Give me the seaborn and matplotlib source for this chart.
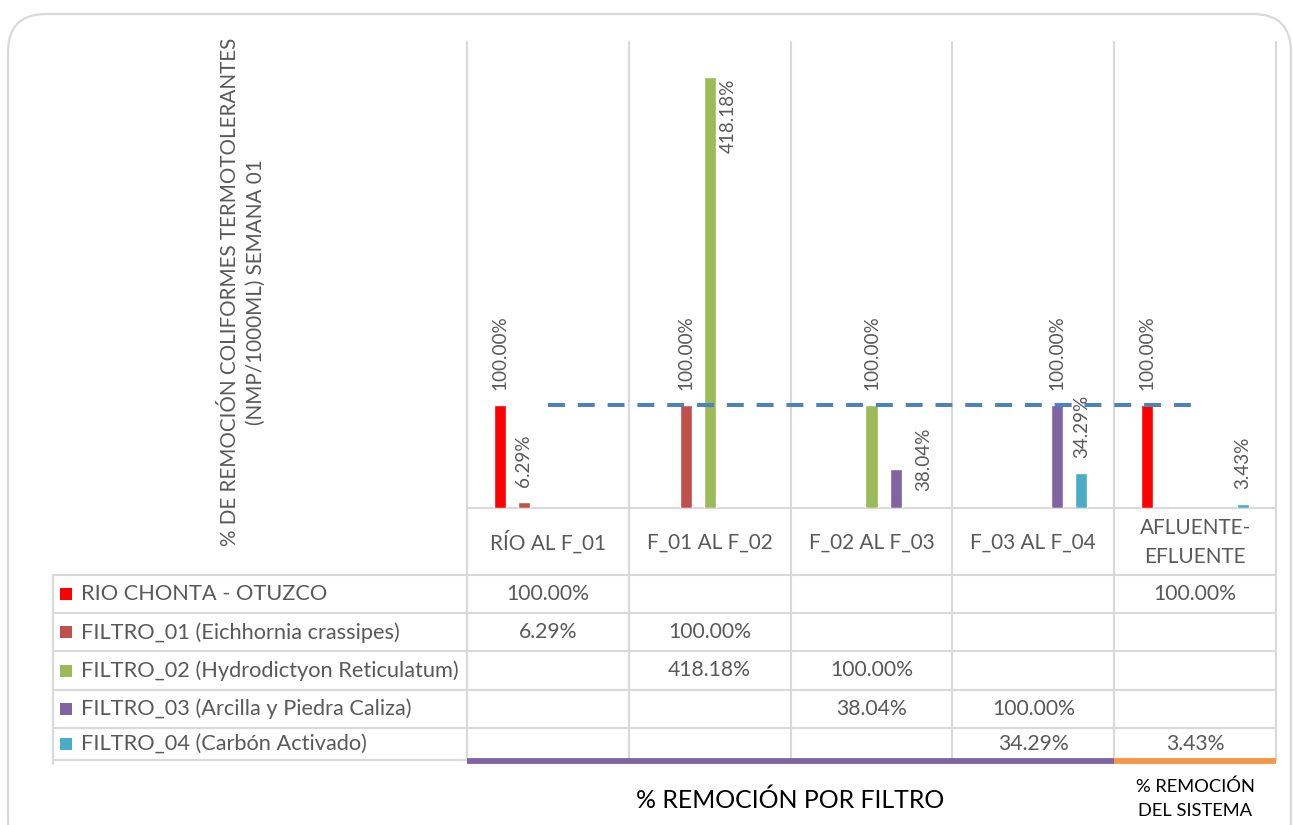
import numpy as np
import pandas as pd
import matplotlib
matplotlib.use("Agg")
import matplotlib.pyplot as plt
import seaborn as sns
from matplotlib.patches import FancyBboxPatch, Rectangle

# ---------------- data ----------------
categories = ["RÍO AL F_01", "F_01 AL F_02", "F_02 AL F_03", "F_03 AL F_04", "AFLUENTE-\nEFLUENTE"]
series_names = [
    "RIO CHONTA - OTUZCO",
    "FILTRO_01 (Eichhornia crassipes)",
    "FILTRO_02 (Hydrodictyon Reticulatum)",
    "FILTRO_03 (Arcilla y Piedra Caliza)",
    "FILTRO_04 (Carbón Activado)",
]
rio_chonta = [100.00, None, None, None, 100.00]
filtro_01 = [6.29, 100.00, None, None, None]
filtro_02 = [None, 418.18, 100.00, None, None]
filtro_03 = [None, None, 38.04, 100.00, None]
filtro_04 = [None, None, None, 34.29, 3.43]
reference_100 = [100, 100, 100, 100, 100]
series_colors = ["#FF0000", "#C0504D", "#9BBB59", "#8064A2", "#4BACC6"]
axis_title = "% DE REMOCIÓN COLIFORMES TERMOTOLERANTES\n(NMP/1000ML) SEMANA 01"
group_titles = ["% REMOCIÓN POR FILTRO", "% REMOCIÓN\nDEL SISTEMA"]

all_series = [rio_chonta, filtro_01, filtro_02, filtro_03, filtro_04]

# ---------------- style ----------------
GRAY_TXT = "#595959"
GRID = "#D9D9D9"
W, H = 1293, 825
sns.set_theme(style="white")
plt.rcParams["font.family"] = ["Lato", "DejaVu Sans"]

fig = plt.figure(figsize=(W / 100, H / 100), dpi=100)
fig.patch.set_facecolor("white")
renderer = fig.canvas.get_renderer()


def fit_size(s, target_px, base=10.0):
    longest = max(s.split("\n"), key=len)
    t = fig.text(0, 0, longest, fontsize=base)
    w = t.get_window_extent(renderer).width
    t.remove()
    return base * target_px / w


FS_LEGEND = fit_size("FILTRO_02 (Hydrodictyon Reticulatum)", 377)
FS_VALUE = fit_size("100.00%", 83)
FS_CAT = fit_size("RÍO AL F_01", 115)
FS_LABEL = fit_size("100.00%", 74)
FS_AXTITLE = fit_size("% DE REMOCIÓN COLIFORMES TERMOTOLERANTES", 505)
FS_G1 = fit_size("% REMOCIÓN POR FILTRO", 306)
FS_G2 = fit_size("DEL SISTEMA", 114)

# overlay axes in pixel coordinates (layout only)
over = fig.add_axes([0, 0, 1, 1], zorder=0)
over.set_xlim(0, W)
over.set_ylim(H, 0)
over.axis("off")

# outer rounded frame
frame = FancyBboxPatch((8, 14), W - 10, H + 20, boxstyle="round,pad=0,rounding_size=38",
                       facecolor="white", edgecolor=GRID, lw=1.6, clip_on=True)
over.add_patch(frame)

# plot area
L, R, T, B = 467, 1276, 44, 508
ax = fig.add_axes([L / W, 1 - B / H, (R - L) / W, (B - T) / H], zorder=2)
ax.patch.set_alpha(0)

rows = []
for name, vals in zip(series_names, all_series):
    for i, v in enumerate(vals):
        if v is not None:
            rows.append({"cat": i, "serie": name, "val": v})
df = pd.DataFrame(rows)

sns.barplot(data=df, x="cat", y="val", hue="serie", hue_order=series_names,
            order=list(range(len(categories))), palette=series_colors,
            width=0.742, gap=0.5, dodge=True, saturation=1, errorbar=None,
            legend=False, ax=ax, zorder=2)
ax.set_xlim(-0.5, len(categories) - 0.5)
ax.set_ylim(0, 450)
ax.set_xticks([])
ax.set_yticks([])
ax.set_xlabel("")
ax.set_ylabel("")
for sp in ax.spines.values():
    sp.set_visible(False)

# reference dashed line at 100 %
ax.plot(np.arange(len(categories)), reference_100, color="#4F81BD", lw=2.9,
        linestyle=(0, (4.2, 3.2)), zorder=4)

# data labels
special = {(2, 1): (19, -2, "top"), (3, 2): (28, 9, "center")}
for si, cont in enumerate(ax.containers):
    for bar in cont:
        h = bar.get_height()
        if not np.isfinite(h) or h == 0:
            continue
        x = bar.get_x() + bar.get_width() / 2
        ci = int(round(x))
        dx, dy, va = special.get((si, ci), (0, 15, "bottom"))
        ax.annotate(f"{h:.2f}%", (x, h), xytext=(dx, dy), textcoords="offset pixels",
                    rotation=90, ha="center", va=va, color=GRAY_TXT,
                    fontsize=FS_LABEL, zorder=5, annotation_clip=False)


def colx(v):
    return over.transData.inverted().transform(ax.transData.transform((v, 0)))[0]


n = len(categories)
edges = [colx(k - 0.5) for k in range(n + 1)]
TABLE_L = 53
ROW_TOP = 575
ROW_H = 38.2
BOTTOM = 760
row_lines = [ROW_TOP + ROW_H * r for r in range(len(series_names))]

# grid lines
for xe in edges:
    over.plot([xe, xe], [T - 2, BOTTOM], color=GRID, lw=1.5, zorder=1)
over.plot([TABLE_L, TABLE_L], [ROW_TOP, BOTTOM + 4], color=GRID, lw=1.5, zorder=1)
over.plot([edges[0], edges[-1]], [B, B], color=GRID, lw=1.5, zorder=1)
for yl in row_lines:
    over.plot([TABLE_L, edges[-1]], [yl, yl], color=GRID, lw=1.5, zorder=1)
over.plot([TABLE_L, edges[0]], [BOTTOM, BOTTOM], color=GRID, lw=1.5, zorder=1)

# coloured group bars
over.plot([edges[0], edges[4]], [BOTTOM + 1, BOTTOM + 1], color="#8064A2", lw=4.2,
          solid_capstyle="butt", zorder=3)
over.plot([edges[4], edges[5]], [BOTTOM + 1, BOTTOM + 1], color="#F79646", lw=4.2,
          solid_capstyle="butt", zorder=3)

# category header row
for i, c in enumerate(categories):
    over.text(colx(i), (B + ROW_TOP) / 2 + 1, c, ha="center", va="center",
              color=GRAY_TXT, fontsize=FS_CAT, linespacing=1.55, zorder=4)

# table rows
row_bottoms = row_lines[1:] + [BOTTOM]
for r, (name, vals, col) in enumerate(zip(series_names, all_series, series_colors)):
    yc = (row_lines[r] + row_bottoms[r]) / 2
    over.add_patch(Rectangle((60, yc - 6), 12, 12, facecolor=col, edgecolor="none", zorder=4))
    over.text(81, yc, name, ha="left", va="center", color=GRAY_TXT,
              fontsize=FS_LEGEND, zorder=4)
    for i, v in enumerate(vals):
        if v is not None:
            over.text(colx(i), yc, f"{v:.2f}%", ha="center", va="center",
                      color=GRAY_TXT, fontsize=FS_VALUE, zorder=4)

# axis title (rotated)
over.text(243, 292, axis_title, rotation=90, ha="center", va="center",
          color=GRAY_TXT, fontsize=FS_AXTITLE, linespacing=1.35,
          multialignment="center", zorder=4)

# group titles
over.text(colx(1.5), 800, group_titles[0], ha="center", va="center",
          color="black", fontsize=FS_G1, zorder=4)
over.text(colx(4), 799, group_titles[1], ha="center", va="center",
          color="black", fontsize=FS_G2, linespacing=1.6, zorder=4)

fig.savefig("out.png", dpi=100, facecolor="white")
